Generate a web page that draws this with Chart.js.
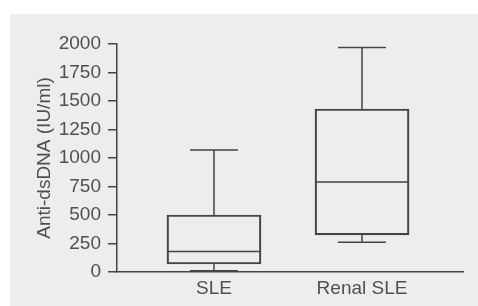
<!DOCTYPE html>
<html lang="en">
  <head>
    <meta charset="UTF-8" />
    <title>Anti-dsDNA</title>
    <script src="https://cdn.jsdelivr.net/npm/chart.js@4"></script>
    <style>
      body { margin: 0; background: #fff; }
      #panel { position: absolute; left: 10px; top: 14px; width: 468px; height: 292px; background: #ededed; }
    </style>
  </head>
  <body>
    <div id="panel"><canvas id="myChart" width="468" height="292"></canvas></div>
    <script>
	const groups = ['SLE', 'Renal SLE'];
	const mins = [10, 260];
	const q1s = [70, 325];
	const medians = [180, 790];
	const q3s = [500, 1430];
	const maxs = [1070, 1970];
	const yTicks = [0, 250, 500, 750, 1000, 1250, 1500, 1750, 2000];

	const ink = '#444444';
	const txt = '#505050';
	const capHalf = 0.162;   // in x units
	const medHalf = 0.318;

	// build segments from the values, gaps between them
	const whiskers = [], caps = [], meds = [];
	groups.forEach(function(g, i){
	    const x = i + 1;
	    whiskers.push({x: x, y: q3s[i]}, {x: x, y: maxs[i]}, {x: x, y: null});
	    whiskers.push({x: x, y: mins[i]}, {x: x, y: q1s[i]}, {x: x, y: null});
	    caps.push({x: x - capHalf, y: maxs[i]}, {x: x + capHalf, y: maxs[i]}, {x: x, y: null});
	    caps.push({x: x - capHalf, y: mins[i]}, {x: x + capHalf, y: mins[i]}, {x: x, y: null});
	    meds.push({x: x - medHalf, y: medians[i]}, {x: x + medHalf, y: medians[i]}, {x: x, y: null});
	});
	const boxes = groups.map(function(g, i){ return {x: i + 1, y: [q1s[i], q3s[i]]}; });

	const lineSet = function(data){
	    return { type: 'line', data: data, borderColor: ink, borderWidth: 1.5,
		     pointRadius: 0, spanGaps: false, fill: false, tension: 0 };
	};

	const font = { family: '"Liberation Sans", Arial, sans-serif', size: 19 };

	const ctx = document.getElementById('myChart').getContext('2d');
	new Chart(ctx, {
	    type: 'bar',
	    data: {
		datasets: [
		    { type: 'bar', data: boxes, backgroundColor: 'rgba(0,0,0,0)', borderColor: ink,
		      borderWidth: 1.5, borderSkipped: false, barThickness: 94 },
		    lineSet(whiskers),
		    lineSet(caps),
		    lineSet(meds)
		]
	    },
	    options: {
		responsive: false,
		animation: false,
		layout: { padding: { top: 30, right: 15, left: 0, bottom: 0 } },
		plugins: { legend: { display: false }, tooltip: { enabled: false } },
		scales: {
		    x: {
			type: 'linear',
			min: 0.345,
			max: 2.682,
			offset: false,
			afterBuildTicks: function(scale){
			    scale.ticks = groups.map(function(g, i){ return {value: i + 1}; });
			},
			afterFit: function(scale){ scale.height = 34; },
			grid: { display: false, offset: false },
			border: { display: true, color: ink, width: 1.5 },
			ticks: {
			    color: txt, font: font, padding: -3, maxRotation: 0,
			    callback: function(v){ return groups[v - 1]; }
			}
		    },
		    y: {
			min: 0,
			max: 2000,
			afterBuildTicks: function(scale){
			    scale.ticks = yTicks.map(function(v){ return {value: v}; });
			},
			afterFit: function(scale){ scale.width = 107; },
			grid: { drawOnChartArea: false, drawTicks: true, tickLength: 9, color: ink, lineWidth: 1.5 },
			border: { display: true, color: ink, width: 1.5 },
			ticks: { color: txt, font: font, padding: 7, callback: function(v){ return String(v); } },
			title: {
			    display: true, text: 'Anti-dsDNA (IU/ml)', color: txt, font: font,
			    padding: { top: 23, bottom: 0 }
			}
		    }
		}
	    }
	});
    </script>
  </body>
</html>
